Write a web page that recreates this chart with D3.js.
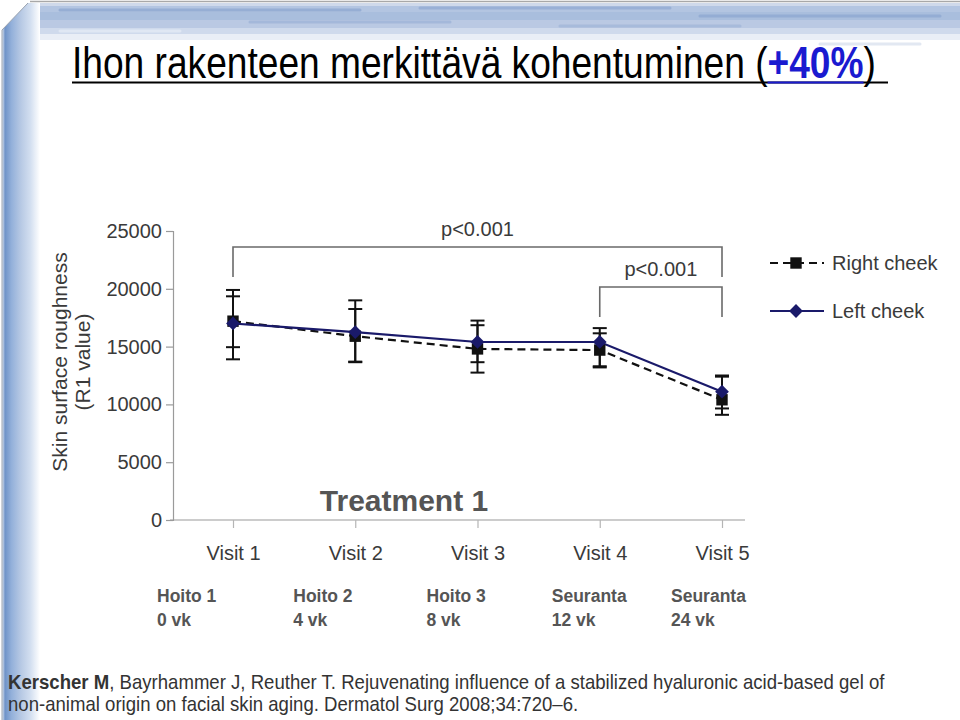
<!DOCTYPE html>
<html>
<head>
<meta charset="utf-8">
<script src="https://cdn.jsdelivr.net/npm/d3@7"></script>
<style>
  html, body { margin: 0; padding: 0; background: #fff; }
  svg { display: block; }
  text { font-family: "Liberation Sans", Arial, Helvetica, sans-serif; }
</style>
</head>
<body>
<svg id="chart" width="960" height="720"></svg>
<script>
// ---------------- DATA ----------------
const visits = ["Visit 1", "Visit 2", "Visit 3", "Visit 4", "Visit 5"];
const yTicks = [0, 5000, 10000, 15000, 20000, 25000];

const rightMean  = [17200, 15900, 14800, 14700, 10400];
const rightUpper = [19900, 19000, 16850, 16150, 12400];
const rightLower = [13900, 13650, 12750, 13200, 9100];

const leftMean  = [17000, 16250, 15400, 15400, 11100];
const leftUpper = [19350, 18250, 17250, 16600, 12500];
const leftLower = [14950, 13700, 13650, 13300, 9650];

const seriesNames = ["Right cheek", "Left cheek"];
const phaseLine1 = ["Hoito 1", "Hoito 2", "Hoito 3", "Seuranta", "Seuranta"];
const phaseLine2 = ["0 vk", "4 vk", "8 vk", "12 vk", "24 vk"];
const pLabels = ["p<0.001", "p<0.001"];

const titleMain = "Ihon rakenteen merkittävä kohentuminen (";
const titleHighlight = "+40%";
const titleEnd = ")";
const refBold = "Kerscher M";
const refLine1 = ", Bayrhammer J, Reuther T. Rejuvenating influence of a stabilized hyaluronic acid-based gel of";
const refLine2 = "non-animal origin on facial skin aging. Dermatol Surg 2008;34:720\u20136.";

// ---------------- LAYOUT ----------------
const svg = d3.select("#chart");
const defs = svg.append("defs");

const gLeft = defs.append("linearGradient").attr("id", "gLeft")
  .attr("gradientUnits", "userSpaceOnUse").attr("x1", 2).attr("y1", 0).attr("x2", 40).attr("y2", 0);
[[0, "#e4e9f1"], [0.08, "#6f93c8"], [0.25, "#93b0da"], [0.5, "#b7c9e4"], [0.75, "#d3dff0"], [1, "#ffffff"]]
  .forEach(([o, c]) => gLeft.append("stop").attr("offset", o).attr("stop-color", c));

svg.append("rect").attr("width", 960).attr("height", 720).attr("fill", "#fff");
svg.append("line").attr("x1", 30).attr("x2", 960).attr("y1", 1.5).attr("y2", 1.5).attr("stroke", "#a8a8a8").attr("stroke-width", 1.5);
// top band built from horizontal stripes of solid colour
[[3, 6, "#cfd9ea"], [6, 12, "#b3c5e1"], [12, 20, "#a9bedd"], [20, 28, "#bac9e3"], [28, 34, "#cfdaec"], [34, 40, "#e9eef6"]]
  .forEach(([y0, y1, c]) => {
    svg.append("rect").attr("x", 28).attr("y", y0).attr("width", 932).attr("height", y1 - y0).attr("fill", c);
  });
svg.append("path").attr("d", "M2,30 L28,3 L40,3 L40,720 L2,720 Z").attr("fill", "url(#gLeft)");
svg.append("line").attr("x1", 2).attr("x2", 2).attr("y1", 30).attr("y2", 720).attr("stroke", "#9aa3b0").attr("stroke-width", 1);
svg.append("line").attr("x1", 2).attr("x2", 28).attr("y1", 30).attr("y2", 3).attr("stroke", "#9aa3b0").attr("stroke-width", 1);
// brush streaks on the top band
[[60, 10, 300, "#8fa9d2"], [420, 8, 250, "#93acd4"], [700, 16, 240, "#8fa9d2"], [250, 22, 200, "#9fb5d9"],
 [560, 26, 180, "#a3b8da"], [60, 31, 120, "#e4ebf5"], [820, 44, 100, "#dbe3ef"]].forEach(([x, y, w, c]) => {
  svg.append("line").attr("x1", x).attr("x2", x + w).attr("y1", y).attr("y2", y)
    .attr("stroke", c).attr("stroke-width", 3).attr("stroke-linecap", "round").attr("opacity", 0.8);
});

// ---------------- TITLE ----------------
const titleG = svg.append("g");
const title = titleG.append("text").attr("font-size", 45).attr("fill", "#000");
title.append("tspan").text(titleMain);
title.append("tspan").attr("font-weight", "bold").attr("fill", "#1a1ad0").text(titleHighlight);
title.append("tspan").text(titleEnd);
const natW = title.node().getComputedTextLength();
const sx = (876 - 72) / natW;
titleG.attr("transform", `translate(72,78) scale(${sx},1)`);
const hlStart = title.node().getSubStringLength(0, titleMain.length);
const hlW = title.node().getSubStringLength(titleMain.length, titleHighlight.length);
svg.append("line").attr("x1", 72).attr("x2", 888).attr("y1", 82.5).attr("y2", 82.5).attr("stroke", "#000").attr("stroke-width", 2.2);
svg.append("line").attr("x1", 72 + hlStart * sx).attr("x2", 72 + (hlStart + hlW) * sx)
  .attr("y1", 82.5).attr("y2", 82.5).attr("stroke", "#1a1ad0").attr("stroke-width", 2.2);

// ---------------- SCALES ----------------
const x = d3.scalePoint().domain(visits).range([233, 722]);
const y = d3.scaleLinear().domain([0, 25000]).range([520, 231]);
const axisColor = "#9a9a9a";
const labelColor = "#3a3a3a";

// y axis
const yAxis = svg.append("g").attr("transform", "translate(173,0)")
  .call(d3.axisLeft(y).tickValues(yTicks).tickSize(7).tickPadding(4).tickFormat(d3.format("d")));
yAxis.select(".domain").attr("stroke", axisColor).attr("stroke-width", 1.2);
yAxis.selectAll(".tick line").attr("stroke", axisColor).attr("stroke-width", 1.2);
yAxis.selectAll(".tick text").attr("font-size", 20).attr("fill", labelColor)
  .attr("font-family", "'Liberation Sans', Arial, sans-serif");

// x axis
const xAxisG = svg.append("g").attr("transform", "translate(0,520)");
xAxisG.append("line").attr("x1", 170).attr("x2", 745).attr("stroke", axisColor).attr("stroke-width", 1.2);
xAxisG.call(d3.axisBottom(x).tickSize(8).tickPadding(18));
xAxisG.select(".domain").remove();
xAxisG.selectAll(".tick line").attr("stroke", "#b5b5b5").attr("stroke-width", 1.2);
xAxisG.selectAll(".tick text").attr("font-size", 20).attr("fill", labelColor)
  .attr("font-family", "'Liberation Sans', Arial, sans-serif");

// y axis title
const yt = svg.append("text").attr("transform", "translate(67,362) rotate(-90)")
  .attr("text-anchor", "middle").attr("font-size", 21).attr("fill", labelColor);
yt.append("tspan").attr("x", 0).attr("dy", 0).text("Skin surface roughness");
yt.append("tspan").attr("x", 0).attr("dy", 23).text("(R1 value)");

// Treatment 1
svg.append("text").attr("x", 404).attr("y", 511).attr("text-anchor", "middle")
  .attr("font-size", 30).attr("font-weight", "bold").attr("fill", "#555").text("Treatment 1");

// ---------------- SIGNIFICANCE BRACKETS ----------------
const bracketColor = "#6a6a6a";
function bracket(i0, i1, yTop, yLegBottom, label) {
  const x0 = x(visits[i0]), x1 = x(visits[i1]);
  svg.append("path").attr("d", `M${x0},${yLegBottom} L${x0},${yTop} L${x1},${yTop} L${x1},${yLegBottom}`)
    .attr("fill", "none").attr("stroke", bracketColor).attr("stroke-width", 1.6);
  svg.append("text").attr("x", (x0 + x1) / 2).attr("y", yTop - 11).attr("text-anchor", "middle")
    .attr("font-size", 20).attr("fill", labelColor).text(label);
}
bracket(0, 4, 247, 277, pLabels[0]);
bracket(3, 4, 287, 317, pLabels[1]);

// ---------------- SERIES ----------------
const capW = 7;
function errorBars(upper, lower, color) {
  visits.forEach((v, i) => {
    const cx = x(v);
    const g = svg.append("g").attr("stroke", color).attr("stroke-width", 2);
    g.append("line").attr("x1", cx).attr("x2", cx).attr("y1", y(upper[i])).attr("y2", y(lower[i]));
    g.append("line").attr("x1", cx - capW).attr("x2", cx + capW).attr("y1", y(upper[i])).attr("y2", y(upper[i]));
    g.append("line").attr("x1", cx - capW).attr("x2", cx + capW).attr("y1", y(lower[i])).attr("y2", y(lower[i]));
  });
}
errorBars(rightUpper, rightLower, "#111");
errorBars(leftUpper, leftLower, "#111");

const line = d3.line().x((d, i) => x(visits[i])).y(d => y(d));
const rightColor = "#111";
const leftColor = "#1a1a6a";

svg.append("path").datum(rightMean).attr("d", line).attr("fill", "none")
  .attr("stroke", rightColor).attr("stroke-width", 2.2).attr("stroke-dasharray", "8,5");
svg.append("path").datum(leftMean).attr("d", line).attr("fill", "none")
  .attr("stroke", leftColor).attr("stroke-width", 2.2);

const sq = d3.symbol().type(d3.symbolSquare).size(130);
const dia = d3.symbol().type(d3.symbolSquare).size(95);
svg.selectAll(".rmark").data(rightMean).enter().append("path")
  .attr("d", sq).attr("transform", (d, i) => `translate(${x(visits[i])},${y(d)})`).attr("fill", rightColor);
svg.selectAll(".lmark").data(leftMean).enter().append("path")
  .attr("d", dia).attr("transform", (d, i) => `translate(${x(visits[i])},${y(d)}) rotate(45)`).attr("fill", leftColor);

// ---------------- LEGEND ----------------
const leg = svg.append("g").attr("transform", "translate(770,263)");
[0, 1].forEach(k => {
  const gy = k * 48;
  const g = leg.append("g").attr("transform", `translate(0,${gy})`);
  g.append("line").attr("x1", 0).attr("x2", 54).attr("y1", 0).attr("y2", 0)
    .attr("stroke", k === 0 ? rightColor : leftColor).attr("stroke-width", 2.2)
    .attr("stroke-dasharray", k === 0 ? "8,5" : null);
  g.append("path").attr("d", k === 0 ? sq : dia).attr("transform", k === 0 ? "translate(26,0)" : "translate(26,0) rotate(45)")
    .attr("fill", k === 0 ? rightColor : leftColor);
  g.append("text").attr("x", 62).attr("y", 7).attr("font-size", 20).attr("fill", labelColor).text(seriesNames[k]);
});

// ---------------- PHASE LABELS ----------------
const phaseOffset = [-76, -62, -51, -48, -51];
visits.forEach((v, i) => {
  const t = svg.append("text").attr("font-size", 17.5).attr("font-weight", "bold").attr("fill", "#555");
  t.append("tspan").attr("x", x(v) + phaseOffset[i]).attr("y", 602).text(phaseLine1[i]);
  t.append("tspan").attr("x", x(v) + phaseOffset[i]).attr("y", 626).text(phaseLine2[i]);
});

// ---------------- REFERENCE ----------------
const refG1 = svg.append("g");
const r1 = refG1.append("text").attr("font-size", 20).attr("fill", "#333");
r1.append("tspan").attr("font-weight", "bold").text(refBold);
r1.append("tspan").text(refLine1);
const r1w = r1.node().getComputedTextLength();
const rsx = (885 - 8) / r1w;
refG1.attr("transform", `translate(8,689) scale(${rsx},1)`);
const refG2 = svg.append("g").attr("transform", `translate(8,711) scale(${rsx},1)`);
refG2.append("text").attr("font-size", 20).attr("fill", "#333").text(refLine2);
</script>
</body>
</html>
